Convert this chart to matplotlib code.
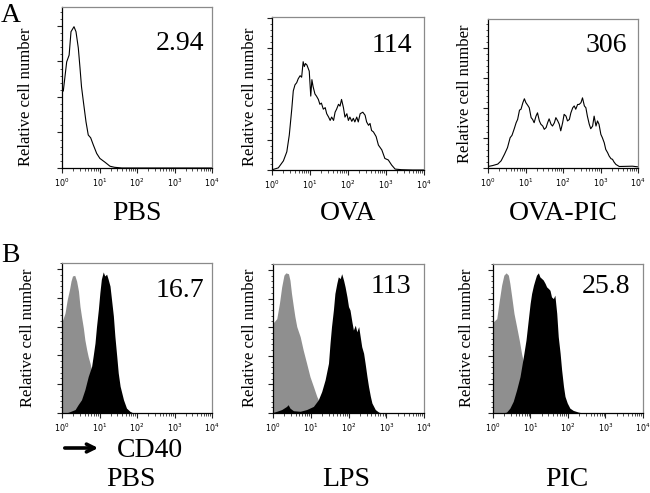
import matplotlib
matplotlib.use("Agg")
import matplotlib.pyplot as plt
import numpy as np
from matplotlib.ticker import LogLocator, MultipleLocator, NullFormatter, FixedLocator, FixedFormatter
from matplotlib.patches import FancyArrowPatch

# ---------------- data (log10 fluorescence, relative cell number) ----------------
# Panel A (line histograms)
a_pbs_logx = [0.035, 0.125, 0.19, 0.24, 0.32, 0.373, 0.435, 0.48, 0.52, 0.57, 0.64, 0.70,
              0.765, 0.835, 0.925, 1.01, 1.15, 1.28, 1.4, 1.6, 2.5, 4.0]
a_pbs_count = [2.17, 2.99, 3.18, 3.84, 3.98, 3.84, 3.38, 2.82, 2.29, 1.87, 1.30, 0.93,
               0.85, 0.65, 0.41, 0.27, 0.16, 0.05, 0.02, 0.0, 0.0, 0.0]

a_ova_logx = [0.0, 0.035, 0.166, 0.30, 0.39, 0.455, 0.52, 0.56, 0.605, 0.65, 0.69, 0.74, 0.78,
              0.82, 0.85, 0.88, 0.92, 0.98, 1.02, 1.05, 1.08, 1.13, 1.17, 1.22, 1.26, 1.30,
              1.35, 1.40, 1.44, 1.49, 1.53, 1.57, 1.62, 1.66, 1.70, 1.75, 1.79, 1.83, 1.88,
              1.92, 1.97, 2.01, 2.05, 2.10, 2.14, 2.18, 2.23, 2.27, 2.32, 2.39, 2.45, 2.49,
              2.54, 2.58, 2.62, 2.67, 2.74, 2.80, 2.89, 2.97, 3.06, 3.15, 3.24, 3.41, 3.7, 4.0]
a_ova_count = [0.01, 0.02, 0.07, 0.30, 0.60, 1.15, 2.00, 2.60, 2.80, 2.87, 3.00, 3.10, 3.05,
               3.56, 3.40, 3.50, 3.45, 3.25, 2.43, 2.97, 2.75, 2.50, 2.43, 2.32, 2.16, 2.20,
               2.00, 2.05, 1.85, 1.74, 1.63, 1.74, 1.63, 1.90, 2.00, 2.16, 2.10, 2.32, 2.05,
               1.74, 1.85, 1.63, 1.74, 1.60, 1.70, 1.58, 1.74, 1.58, 1.85, 1.90, 1.80, 1.58,
               1.47, 1.53, 1.30, 1.25, 1.10, 0.82, 0.66, 0.38, 0.33, 0.16, 0.03, 0.01, 0.0, 0.0]

a_ovapic_logx = [0.0, 0.12, 0.26, 0.35, 0.44, 0.52, 0.59, 0.64, 0.70, 0.75, 0.79, 0.84, 0.88,
                 0.93, 0.97, 1.01, 1.06, 1.10, 1.15, 1.19, 1.23, 1.28, 1.32, 1.37, 1.41, 1.46,
                 1.50, 1.55, 1.59, 1.63, 1.68, 1.72, 1.77, 1.81, 1.86, 1.90, 1.94, 1.99, 2.03,
                 2.08, 2.12, 2.17, 2.21, 2.26, 2.30, 2.34, 2.39, 2.43, 2.48, 2.52, 2.57, 2.61,
                 2.65, 2.70, 2.74, 2.79, 2.83, 2.88, 2.92, 2.96, 3.01, 3.05, 3.10, 3.14, 3.19,
                 3.23, 3.28, 3.32, 3.36, 3.41, 3.50, 3.85, 3.99]
a_ovapic_count = [0.05, 0.08, 0.13, 0.24, 0.46, 0.68, 1.01, 1.09, 1.31, 1.51, 1.62, 1.93, 1.96,
                  2.18, 2.31, 2.18, 2.09, 2.01, 1.68, 1.62, 1.51, 1.73, 1.84, 1.57, 1.46, 1.40,
                  1.29, 1.35, 1.51, 1.64, 1.46, 1.40, 1.51, 1.68, 1.57, 1.46, 1.24, 1.51, 1.79,
                  1.73, 1.57, 1.62, 1.84, 2.01, 2.07, 1.96, 2.12, 2.12, 2.18, 2.34, 2.07, 2.01,
                  1.73, 1.46, 1.31, 1.40, 1.73, 1.40, 1.57, 1.46, 1.12, 1.01, 0.84, 0.62, 0.51,
                  0.40, 0.31, 0.29, 0.20, 0.12, 0.05, 0.06, 0.04]

# Panel B (filled histograms: grey = control, black = CD40 stain)
b_pbs_ctrl_logx = [0.0, 0.02, 0.08, 0.14, 0.20, 0.24, 0.28, 0.34, 0.39, 0.44, 0.48, 0.52, 0.57,
                   0.61, 0.66, 0.70, 0.75, 0.79, 0.85, 0.95, 1.05, 1.15, 1.30, 1.45]
b_pbs_ctrl_count = [3.20, 3.24, 3.47, 3.94, 4.29, 4.58, 4.76, 4.78, 4.58, 4.23, 3.70, 3.35, 2.95,
                    2.54, 2.19, 1.95, 1.72, 1.49, 1.20, 0.80, 0.45, 0.20, 0.05, 0.0]
b_pbs_cd40_logx = [0.10, 0.18, 0.35, 0.43, 0.52, 0.61, 0.70, 0.79, 0.83, 0.88, 0.92, 0.97, 1.01,
                   1.05, 1.10, 1.14, 1.19, 1.23, 1.28, 1.32, 1.37, 1.41, 1.46, 1.50, 1.55, 1.64,
                   1.72, 1.81, 1.90]
b_pbs_cd40_count = [0.0, 0.03, 0.12, 0.29, 0.46, 0.81, 1.27, 1.62, 1.97, 2.43, 3.00, 3.60, 4.18,
                    4.65, 4.90, 4.76, 4.82, 4.65, 4.41, 3.95, 3.37, 2.67, 1.97, 1.39, 0.93, 0.46,
                    0.17, 0.06, 0.0]

b_lps_ctrl_logx = [0.0, 0.03, 0.10, 0.17, 0.23, 0.29, 0.34, 0.41, 0.45, 0.49, 0.54, 0.58, 0.63,
                   0.72, 0.80, 0.89, 0.98, 1.07, 1.16, 1.22, 1.30, 1.40, 1.50, 1.60]
b_lps_ctrl_count = [3.15, 3.19, 3.30, 3.83, 4.41, 4.82, 4.90, 4.87, 4.64, 4.18, 3.72, 3.37, 3.02,
                    2.67, 2.20, 1.74, 1.27, 0.93, 0.58, 0.41, 0.25, 0.12, 0.04, 0.0]
b_lps_cd40_logx = [0.0, 0.10, 0.23, 0.36, 0.40, 0.45, 0.54, 0.72, 0.89, 1.07, 1.20, 1.29, 1.38,
                   1.47, 1.51, 1.55, 1.60, 1.64, 1.69, 1.73, 1.78, 1.82, 1.87, 1.91, 1.96, 2.00,
                   2.04, 2.09, 2.13, 2.18, 2.22, 2.27, 2.31, 2.35, 2.40, 2.44, 2.49, 2.53, 2.58,
                   2.62, 2.71, 2.80, 2.89]
b_lps_cd40_count = [0.02, 0.06, 0.12, 0.23, 0.29, 0.17, 0.08, 0.06, 0.12, 0.23, 0.46, 0.75, 1.16,
                    1.74, 2.43, 3.02, 3.60, 4.18, 4.53, 4.76, 4.70, 4.87, 4.64, 4.41, 4.06, 3.72,
                    3.60, 3.19, 2.90, 3.07, 2.84, 3.02, 2.67, 2.32, 2.09, 1.74, 1.27, 0.93, 0.58,
                    0.35, 0.12, 0.03, 0.0]

b_pic_ctrl_logx = [0.0, 0.01, 0.10, 0.17, 0.23, 0.29, 0.35, 0.41, 0.45, 0.50, 0.56, 0.63, 0.70,
                   0.76, 0.80, 0.90, 1.00, 1.10, 1.20, 1.30, 1.40]
b_pic_ctrl_count = [3.15, 3.19, 3.30, 3.95, 4.47, 4.82, 4.90, 4.82, 4.53, 4.06, 3.48, 3.02, 2.55,
                    2.09, 1.85, 1.40, 0.95, 0.55, 0.25, 0.08, 0.0]
b_pic_cd40_logx = [0.25, 0.36, 0.45, 0.54, 0.63, 0.72, 0.81, 0.88, 0.94, 0.99, 1.03, 1.08, 1.12,
                   1.16, 1.21, 1.25, 1.30, 1.34, 1.39, 1.43, 1.48, 1.52, 1.56, 1.61, 1.65, 1.70,
                   1.74, 1.79, 1.83, 1.88, 1.92, 1.98, 2.05, 2.14, 2.28, 2.41]
b_pic_cd40_count = [0.0, 0.03, 0.17, 0.41, 0.81, 1.27, 1.97, 2.55, 3.25, 3.83, 4.18, 4.47, 4.65,
                    4.82, 4.90, 4.76, 4.70, 4.65, 4.53, 4.41, 4.35, 4.29, 4.06, 4.00, 4.12, 3.48,
                    2.67, 2.09, 1.51, 0.93, 0.58, 0.35, 0.17, 0.09, 0.03, 0.0]

panel_a_names = ["PBS", "OVA", "OVA-PIC"]
panel_a_values = ["2.94", "114", "306"]
panel_b_names = ["PBS", "LPS", "PIC"]
panel_b_values = ["16.7", "113", "25.8"]
x_tick_labels = ["$10^{0}$", "$10^{1}$", "$10^{2}$", "$10^{3}$", "$10^{4}$"]
y_label = "Relative cell number"
marker_label = "CD40"

# ---------------- layout ----------------
W, H = 650, 493
fig = plt.figure(figsize=(W / 100, H / 100), dpi=100)
SERIF = "Liberation Serif"


def px_axes(x0, y0, x1, y1):
    return fig.add_axes([x0 / W, 1 - y1 / H, (x1 - x0) / W, (y1 - y0) / H])


def ftext(x, y, s, **kw):
    fig.text(x / W, 1 - y / H, s, **kw)


def style(ax, ytop):
    ax.set_xscale("log")
    ax.set_xlim(1, 1e4)
    ax.set_ylim(0, ytop)
    ax.xaxis.set_major_locator(FixedLocator([1, 10, 100, 1000, 10000]))
    ax.xaxis.set_major_formatter(FixedFormatter(x_tick_labels))
    ax.xaxis.set_minor_locator(LogLocator(base=10, subs=np.arange(2, 10), numticks=20))
    ax.xaxis.set_minor_formatter(NullFormatter())
    ax.yaxis.set_major_locator(MultipleLocator(1))
    ax.yaxis.set_minor_locator(MultipleLocator(0.2))
    ax.set_yticklabels([])
    ax.tick_params(axis="both", which="major", direction="out", length=3.5, width=0.8,
                   labelsize=5.8, pad=2.5, color="#222222")
    ax.tick_params(axis="both", which="minor", direction="out", length=1.8, width=0.6,
                   color="#333333")
    for lab in ax.get_xticklabels():
        lab.set_fontfamily("Liberation Sans")
    for sp in ("left", "bottom"):
        ax.spines[sp].set_color("black")
        ax.spines[sp].set_linewidth(0.9)
    for sp in ("top", "right"):
        ax.spines[sp].set_color("#8a8a8a")
        ax.spines[sp].set_linewidth(0.9)
    ax.set_facecolor("white")


# Panel A axes
a_boxes = [(62, 7, 212, 168), (272, 17, 424, 170), (488, 19, 638, 168)]
a_ytops = [4.535, 5.03, 4.97]
a_data = [(a_pbs_logx, a_pbs_count), (a_ova_logx, a_ova_count), (a_ovapic_logx, a_ovapic_count)]
a_val_pos = [(204, 50), (412, 52), (627, 52)]
a_ylab_pos = [(26.5, 97), (250, 97), (465, 94)]

for box, ytop, (lx, cnt), vpos, ypos, name, val in zip(a_boxes, a_ytops, a_data, a_val_pos,
                                                       a_ylab_pos, panel_a_names, panel_a_values):
    ax = px_axes(*box)
    style(ax, ytop)
    ax.plot(10 ** np.asarray(lx), cnt, color="black", lw=0.8)
    ftext(vpos[0], vpos[1], val, ha="right", va="baseline", fontsize=20, fontfamily=SERIF)
    ftext(ypos[0], ypos[1], y_label, rotation=90, ha="center", va="center", fontsize=12,
          fontfamily=SERIF)
    ftext((box[0] + box[2]) / 2, 220, name, ha="center", va="baseline", fontsize=20,
          fontfamily=SERIF)

# Panel B axes
b_boxes = [(62, 263, 212, 413), (273, 264, 424, 413), (493, 264, 643, 413)]
b_data = [((b_pbs_ctrl_logx, b_pbs_ctrl_count), (b_pbs_cd40_logx, b_pbs_cd40_count)),
          ((b_lps_ctrl_logx, b_lps_ctrl_count), (b_lps_cd40_logx, b_lps_cd40_count)),
          ((b_pic_ctrl_logx, b_pic_ctrl_count), (b_pic_cd40_logx, b_pic_cd40_count))]
b_val_pos = [(204, 297), (411, 293), (630, 293)]
b_ylab_pos = [(28.5, 338), (250, 338), (466.5, 338)]
b_name_x = [131, 346.5, 566.5]

for box, ((cx, cc), (sx, sc)), vpos, ypos, nx, name, val in zip(
        b_boxes, b_data, b_val_pos, b_ylab_pos, b_name_x, panel_b_names, panel_b_values):
    ax = px_axes(*box)
    style(ax, 5.21)
    ax.fill_between(10 ** np.asarray(cx), cc, 0, color="#8f8f8f", lw=0)
    ax.fill_between(10 ** np.asarray(sx), sc, 0, color="black", lw=0)
    ftext(vpos[0], vpos[1], val, ha="right", va="baseline", fontsize=20, fontfamily=SERIF)
    ftext(ypos[0], ypos[1], y_label, rotation=90, ha="center", va="center", fontsize=12,
          fontfamily=SERIF)
    ftext(nx, 486, name, ha="center", va="baseline", fontsize=20, fontfamily=SERIF)

# CD40 arrow and label
arrow = FancyArrowPatch((62 / W, 1 - 448 / H), (101 / W, 1 - 448 / H), transform=fig.transFigure,
                        arrowstyle="->", mutation_scale=14, lw=2.6, color="black")
fig.patches.append(arrow)
ftext(117, 457, marker_label, ha="left", va="baseline", fontsize=20, fontfamily=SERIF)

# Panel letters
ftext(1, 22, "A", ha="left", va="baseline", fontsize=20, fontfamily=SERIF)
ftext(1, 262, "B", ha="left", va="baseline", fontsize=20, fontfamily=SERIF)

fig.savefig("out.png", dpi=100, facecolor="white")
